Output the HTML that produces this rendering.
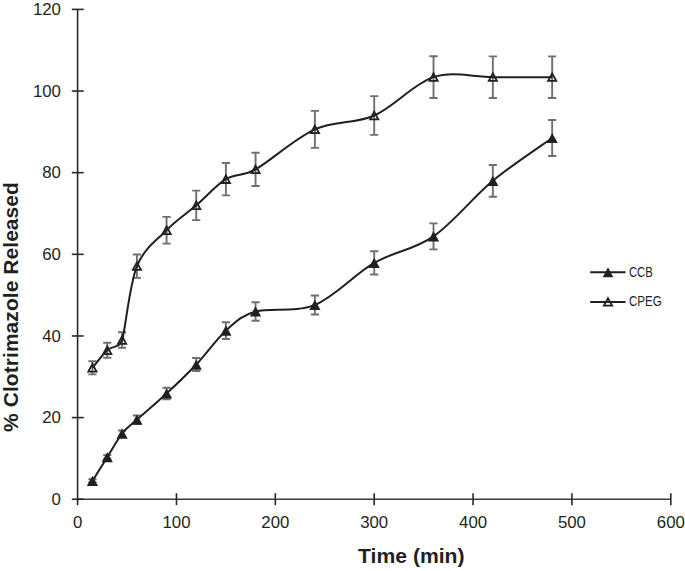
<!DOCTYPE html><html><head><meta charset="utf-8"><style>html,body{margin:0;padding:0;background:#fff;}svg{display:block;}text{font-family:"Liberation Sans",sans-serif;}</style></head><body>
<svg width="685" height="571" viewBox="0 0 685 571">
<rect width="685" height="571" fill="#fff"/>
<g stroke="#2b2728" stroke-width="1.6" fill="none">
<path d="M77.60 499.25 H670.80" stroke="#3e3b3c"/>
<path d="M77.60 9.40 V499.25"/>
<path d="M71.80 499.25 H83.70"/>
<path d="M71.80 417.61 H83.70"/>
<path d="M71.80 335.97 H83.70"/>
<path d="M71.80 254.32 H83.70"/>
<path d="M71.80 172.68 H83.70"/>
<path d="M71.80 91.04 H83.70"/>
<path d="M71.80 9.40 H83.70"/>
<path d="M77.60 499.25 V505.15"/>
<path d="M176.47 493.15 V505.15"/>
<path d="M275.33 493.15 V505.15"/>
<path d="M374.20 493.15 V505.15"/>
<path d="M473.07 493.15 V505.15"/>
<path d="M571.93 493.15 V505.15"/>
<path d="M670.80 493.15 V505.15"/>
</g>
<g fill="#231f20" font-size="16.8">
<text x="60.9" y="504.70" text-anchor="end">0</text>
<text x="60.9" y="422.60" text-anchor="end">20</text>
<text x="60.9" y="341.60" text-anchor="end">40</text>
<text x="60.9" y="259.90" text-anchor="end">60</text>
<text x="60.9" y="177.70" text-anchor="end">80</text>
<text x="60.9" y="96.70" text-anchor="end">100</text>
<text x="60.9" y="15.30" text-anchor="end">120</text>
<text x="77.60" y="528.4" text-anchor="middle">0</text>
<text x="176.47" y="528.4" text-anchor="middle">100</text>
<text x="275.33" y="528.4" text-anchor="middle">200</text>
<text x="374.20" y="528.4" text-anchor="middle">300</text>
<text x="473.07" y="528.4" text-anchor="middle">400</text>
<text x="571.93" y="528.4" text-anchor="middle">500</text>
<text x="670.80" y="528.4" text-anchor="middle">600</text>
</g>
<text x="358" y="562.6" font-size="21" textLength="106.6" lengthAdjust="spacingAndGlyphs" font-weight="bold" fill="#231f20">Time (min)</text>
<text transform="translate(17.80,431.90) rotate(-90)" x="0" y="0" font-size="21.00" textLength="249.80" lengthAdjust="spacing" font-weight="bold" fill="#231f20">% Clotrimazole Released</text>
<path d="M92.43 479.25 V482.51 M88.33 479.25 H96.53 M88.33 482.51 H96.53 M107.26 455.16 V459.25 M103.16 455.16 H111.36 M103.16 459.25 H111.36 M122.09 430.47 V436.59 M117.99 430.47 H126.19 M117.99 436.59 H126.19 M136.92 415.57 V423.73 M132.82 415.57 H141.02 M132.82 423.73 H141.02 M166.58 387.73 V399.32 M162.48 387.73 H170.68 M162.48 399.32 H170.68 M196.24 358.01 V371.07 M192.14 358.01 H200.34 M192.14 371.07 H200.34 M225.90 322.25 V339.07 M221.80 322.25 H230.00 M221.80 339.07 H230.00 M255.56 302.21 V320.74 M251.46 302.21 H259.66 M251.46 320.74 H259.66 M314.88 295.43 V314.45 M310.78 295.43 H318.98 M310.78 314.45 H318.98 M374.20 251.26 V274.53 M370.10 251.26 H378.30 M370.10 274.53 H378.30 M433.52 223.38 V249.34 M429.42 223.38 H437.62 M429.42 249.34 H437.62 M492.84 165.01 V196.69 M488.74 165.01 H496.94 M488.74 196.69 H496.94 M552.16 120.02 V155.95 M548.06 120.02 H556.26 M548.06 155.95 H556.26 M92.43 361.28 V374.34 M88.33 361.28 H96.53 M88.33 374.34 H96.53 M107.26 342.74 V357.76 M103.16 342.74 H111.36 M103.16 357.76 H111.36 M122.09 332.29 V347.80 M117.99 332.29 H126.19 M117.99 347.80 H126.19 M136.92 254.45 V277.88 M132.82 254.45 H141.02 M132.82 277.88 H141.02 M166.58 216.85 V243.63 M162.48 216.85 H170.68 M162.48 243.63 H170.68 M196.24 190.60 V220.08 M192.14 190.60 H200.34 M192.14 220.08 H200.34 M225.90 163.01 V195.42 M221.80 163.01 H230.00 M221.80 195.42 H230.00 M255.56 152.76 V186.07 M251.46 152.76 H259.66 M251.46 186.07 H259.66 M314.88 110.92 V147.91 M310.78 110.92 H318.98 M310.78 147.91 H318.98 M374.20 96.14 V134.92 M370.10 96.14 H378.30 M370.10 134.92 H378.30 M433.52 56.26 V98.06 M429.42 56.26 H437.62 M429.42 98.06 H437.62 M492.84 56.34 V97.98 M488.74 56.34 H496.94 M488.74 97.98 H496.94 M552.16 56.34 V97.98 M548.06 56.34 H556.26 M548.06 97.98 H556.26" stroke="#6f6f72" stroke-width="1.9" fill="none"/>
<path d="M92.43 480.88 C94.90 476.93 102.32 465.10 107.26 457.20 C112.20 449.31 117.15 439.79 122.09 433.53 C127.03 427.27 129.50 426.32 136.92 419.65 C144.33 412.98 156.69 402.71 166.58 393.52 C176.47 384.34 186.35 375.02 196.24 364.54 C206.13 354.06 216.01 339.50 225.90 330.66 C235.79 321.82 240.73 315.76 255.56 311.47 C270.39 307.19 295.11 313.04 314.88 304.94 C334.65 296.85 354.43 274.33 374.20 262.90 C393.97 251.47 413.75 250.04 433.52 236.36 C453.29 222.69 473.07 197.24 492.84 180.85 C512.61 164.45 542.27 145.13 552.16 137.99" stroke="#231f20" stroke-width="2.0" fill="none"/>
<path d="M92.43 367.81 C94.90 364.88 102.32 354.88 107.26 350.25 C112.20 345.63 119.10 348.54 122.09 340.05 C125.08 331.56 129.50 284.46 136.92 266.16 C144.33 247.86 156.69 240.38 166.58 230.24 C176.47 220.10 186.35 213.84 196.24 205.34 C206.13 196.84 216.01 185.20 225.90 179.21 C235.79 173.23 241.93 177.05 255.56 169.42 C269.19 161.79 295.11 138.39 314.88 129.41 C334.65 120.43 354.43 124.24 374.20 115.53 C393.97 106.83 413.75 83.56 433.52 77.16 C453.29 70.77 473.07 77.16 492.84 77.16 C512.61 77.16 542.27 77.16 552.16 77.16" stroke="#231f20" stroke-width="2.0" fill="none"/>
<path d="M92.43 475.78 L98.03 485.98 L86.83 485.98 Z" fill="#231f20"/>
<path d="M107.26 452.10 L112.86 462.30 L101.66 462.30 Z" fill="#231f20"/>
<path d="M122.09 428.43 L127.69 438.63 L116.49 438.63 Z" fill="#231f20"/>
<path d="M136.92 414.55 L142.52 424.75 L131.32 424.75 Z" fill="#231f20"/>
<path d="M166.58 388.42 L172.18 398.62 L160.98 398.62 Z" fill="#231f20"/>
<path d="M196.24 359.44 L201.84 369.64 L190.64 369.64 Z" fill="#231f20"/>
<path d="M225.90 325.56 L231.50 335.76 L220.30 335.76 Z" fill="#231f20"/>
<path d="M255.56 306.37 L261.16 316.57 L249.96 316.57 Z" fill="#231f20"/>
<path d="M314.88 299.84 L320.48 310.04 L309.28 310.04 Z" fill="#231f20"/>
<path d="M374.20 257.80 L379.80 268.00 L368.60 268.00 Z" fill="#231f20"/>
<path d="M433.52 231.26 L439.12 241.46 L427.92 241.46 Z" fill="#231f20"/>
<path d="M492.84 175.75 L498.44 185.95 L487.24 185.95 Z" fill="#231f20"/>
<path d="M552.16 132.89 L557.76 143.09 L546.56 143.09 Z" fill="#231f20"/>
<path d="M92.43 364.01 L96.53 371.61 L88.33 371.61 Z" fill="none" stroke="#231f20" stroke-width="1.8" stroke-linejoin="miter"/>
<path d="M107.26 346.45 L111.36 354.05 L103.16 354.05 Z" fill="none" stroke="#231f20" stroke-width="1.8" stroke-linejoin="miter"/>
<path d="M122.09 336.25 L126.19 343.85 L117.99 343.85 Z" fill="none" stroke="#231f20" stroke-width="1.8" stroke-linejoin="miter"/>
<path d="M136.92 262.36 L141.02 269.96 L132.82 269.96 Z" fill="none" stroke="#231f20" stroke-width="1.8" stroke-linejoin="miter"/>
<path d="M166.58 226.44 L170.68 234.04 L162.48 234.04 Z" fill="none" stroke="#231f20" stroke-width="1.8" stroke-linejoin="miter"/>
<path d="M196.24 201.54 L200.34 209.14 L192.14 209.14 Z" fill="none" stroke="#231f20" stroke-width="1.8" stroke-linejoin="miter"/>
<path d="M225.90 175.41 L230.00 183.01 L221.80 183.01 Z" fill="none" stroke="#231f20" stroke-width="1.8" stroke-linejoin="miter"/>
<path d="M255.56 165.62 L259.66 173.22 L251.46 173.22 Z" fill="none" stroke="#231f20" stroke-width="1.8" stroke-linejoin="miter"/>
<path d="M314.88 125.61 L318.98 133.21 L310.78 133.21 Z" fill="none" stroke="#231f20" stroke-width="1.8" stroke-linejoin="miter"/>
<path d="M374.20 111.73 L378.30 119.33 L370.10 119.33 Z" fill="none" stroke="#231f20" stroke-width="1.8" stroke-linejoin="miter"/>
<path d="M433.52 73.36 L437.62 80.96 L429.42 80.96 Z" fill="none" stroke="#231f20" stroke-width="1.8" stroke-linejoin="miter"/>
<path d="M492.84 73.36 L496.94 80.96 L488.74 80.96 Z" fill="none" stroke="#231f20" stroke-width="1.8" stroke-linejoin="miter"/>
<path d="M552.16 73.36 L556.26 80.96 L548.06 80.96 Z" fill="none" stroke="#231f20" stroke-width="1.8" stroke-linejoin="miter"/>
<path d="M590.2 272.2 H625.5 M590.2 302 H625.5" stroke="#231f20" stroke-width="2.0"/>
<path d="M608.00 267.30 L613.30 277.30 L602.70 277.30 Z" fill="#231f20"/>
<path d="M608.00 298.10 L612.10 305.70 L603.90 305.70 Z" fill="none" stroke="#231f20" stroke-width="1.8"/>
<text x="628.9" y="276.9" font-size="14.2" fill="#231f20" textLength="24" lengthAdjust="spacingAndGlyphs">CCB</text>
<text x="628.9" y="306.4" font-size="14.2" fill="#231f20" textLength="33" lengthAdjust="spacingAndGlyphs">CPEG</text>
</svg></body></html>
